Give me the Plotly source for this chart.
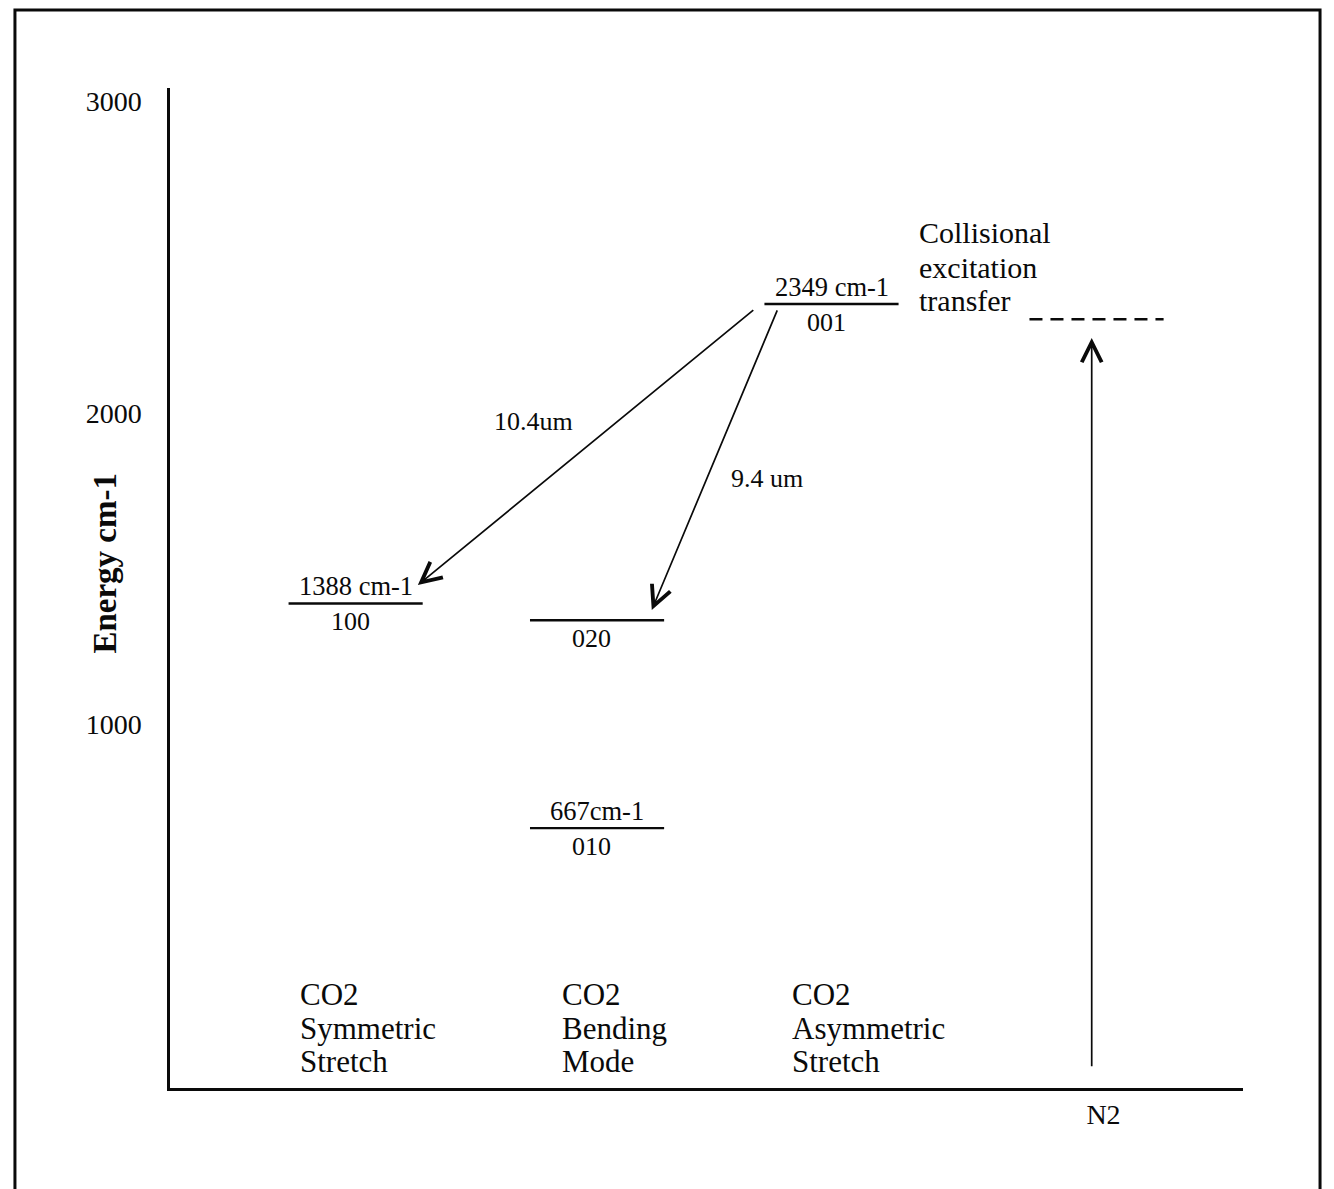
import plotly.graph_objects as go

# ---------------- data ----------------
level_modes = ["sym", "bend", "bend", "asym", "n2"]
level_energy = [1388, 1334, 667, 2349, 2300]
level_top_labels = ["1388 cm-1", "", "667cm-1", "2349 cm-1", ""]
level_bottom_labels = ["100", "020", "010", "001", ""]

mode_names = ["sym", "bend", "asym"]
mode_label_lines = [
    ["CO2", "Symmetric", "Stretch"],
    ["CO2", "Bending", "Mode"],
    ["CO2", "Asymmetric", "Stretch"],
]

transition_labels = ["10.4um", "9.4 um"]
transition_from = [2349, 2349]
transition_to = [1388, 1334]

n2_label = "N2"
collision_lines = ["Collisional", "excitation", "transfer"]

y_tick_values = [1000, 2000, 3000]
y_tick_labels = ["1000", "2000", "3000"]
y_title = "Energy cm-1"

# ---------------- layout geometry ----------------
col_x = {"sym": 1.73, "bend": 3.98, "asym": 6.165, "n2": 8.635}
half_w = 0.625
font_family = "Liberation Serif"
ink = "#0a0a0a"

fig = go.Figure()

# energy levels
for mode, e in zip(level_modes, level_energy):
    cx = col_x[mode]
    fig.add_trace(go.Scatter(
        x=[cx - half_w, cx + half_w], y=[e, e], mode="lines",
        line=dict(color=ink, width=2.4, dash="13px,8px" if mode == "n2" else "solid"),
        showlegend=False, hoverinfo="skip"))

annotations = []
for mode, e, top, bot in zip(level_modes, level_energy, level_top_labels, level_bottom_labels):
    cx = col_x[mode]
    if top:
        annotations.append(dict(x=cx, y=e, xref="x", yref="y", text=top, showarrow=False,
                                yanchor="bottom", yshift=0, font=dict(size=26.5, family=font_family, color=ink)))
    if bot:
        annotations.append(dict(x=cx - 0.05, y=e, xref="x", yref="y", text=bot, showarrow=False,
                                yanchor="top", yshift=-2, font=dict(size=26, family=font_family, color=ink)))

# transitions (arrows)
tail_dx = [-0.715, -0.50]
tip_dx = [0.58, 0.51]
tip_de = [59, 33]
tip_cols = ["sym", "bend"]
label_pos = [(3.39, 1971), (5.56, 1788)]
for i, lab in enumerate(transition_labels):
    annotations.append(dict(
        x=col_x[tip_cols[i]] + tip_dx[i], y=transition_to[i] + tip_de[i],
        ax=col_x["asym"] + tail_dx[i], ay=transition_from[i] - 16,
        xref="x", yref="y", axref="x", ayref="y", text="", showarrow=True,
        arrowhead=5, arrowsize=2.3, arrowwidth=1.7, arrowcolor=ink, standoff=0, startstandoff=0))
    annotations.append(dict(x=label_pos[i][0], y=label_pos[i][1], xref="x", yref="y", text=lab,
                            showarrow=False, font=dict(size=26, family=font_family, color=ink)))

# N2 collisional excitation arrow
annotations.append(dict(
    x=8.59, y=2240, ax=8.59, ay=-102, xref="x", yref="y", axref="x", ayref="y",
    text="", showarrow=True, arrowhead=5, arrowsize=2.3, arrowwidth=1.7,
    arrowcolor=ink, standoff=0, startstandoff=0))

# mode labels
mode_label_x = {"sym": 1.193, "bend": 3.635, "asym": 5.778}
line_y = [132, 23, -83]
for mode, lines in zip(mode_names, mode_label_lines):
    for ly, txt in zip(line_y, lines):
        annotations.append(dict(x=mode_label_x[mode], y=ly, xref="x", yref="y", text=txt,
                                showarrow=False, xanchor="left",
                                font=dict(size=31, family=font_family, color=ink)))

# collisional text
for ly, txt in zip([2577, 2465, 2359], collision_lines):
    annotations.append(dict(x=6.96, y=ly, xref="x", yref="y", text=txt, showarrow=False,
                            xanchor="left", font=dict(size=30, family=font_family, color=ink)))

# y-axis title
annotations.append(dict(x=-0.061, y=0.525, xref="paper", yref="paper", text="<b>" + y_title + "</b>",
                        textangle=-90, showarrow=False, xanchor="center", yanchor="middle",
                        font=dict(size=33, family=font_family, color=ink)))

fig.update_layout(
    width=1326, height=1181,
    margin=dict(l=162, r=91, t=80, b=101),
    paper_bgcolor="white", plot_bgcolor="white",
    annotations=annotations,
    shapes=[dict(type="rect", xref="paper", yref="paper",
                 x0=-0.1445, x1=1.0718, y0=-0.13, y1=1.078,
                 line=dict(color=ink, width=3))],
    xaxis=dict(range=[0, 10], showgrid=False, zeroline=False, showline=True,
               linecolor=ink, linewidth=2.5, ticks="",
               tickvals=[8.70], ticktext=[n2_label], ticklabelstandoff=0,
               tickfont=dict(size=28, family=font_family, color=ink)),
    yaxis=dict(range=[-167, 3042], showgrid=False, zeroline=False, showline=True,
               linecolor=ink, linewidth=2.5, ticks="",
               tickvals=y_tick_values, ticktext=y_tick_labels, ticklabelstandoff=20,
               tickfont=dict(size=28, family=font_family, color=ink)),
    showlegend=False,
)

fig.write_html("out.html")
